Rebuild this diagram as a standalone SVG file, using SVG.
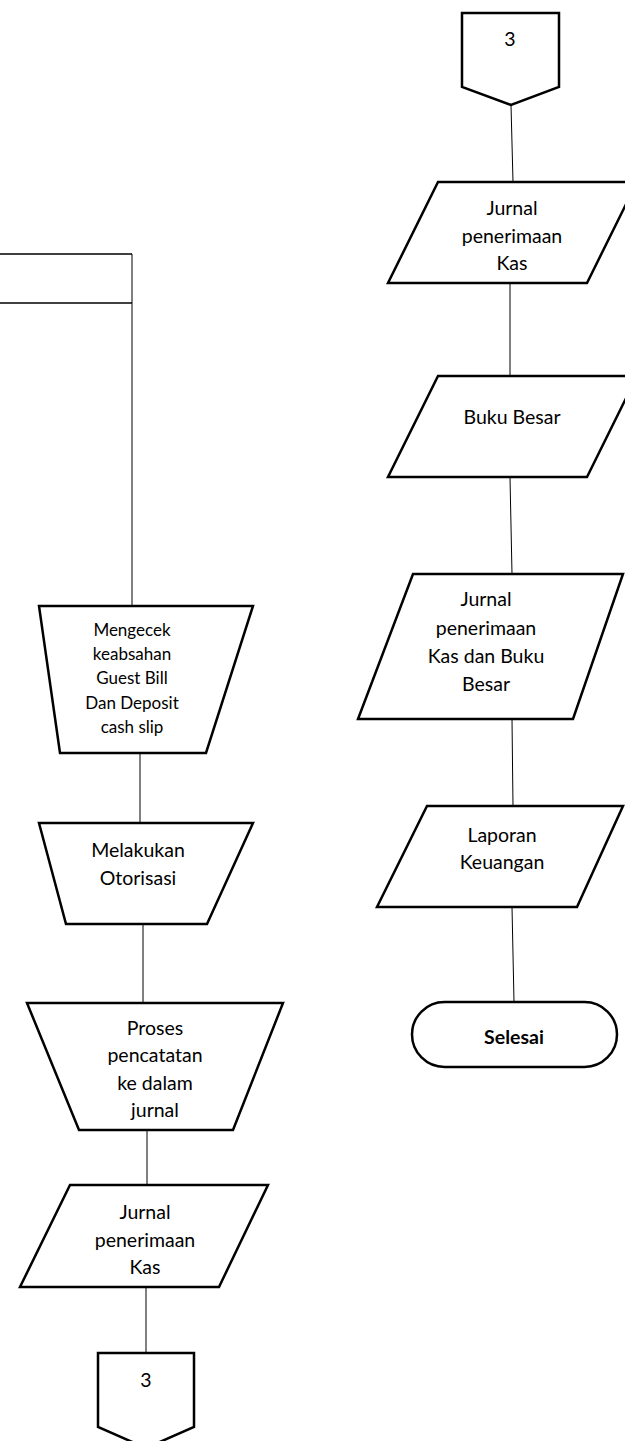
<svg xmlns="http://www.w3.org/2000/svg" width="625" height="1441" viewBox="0 0 625 1441">
  <style>
    .shape { fill: #ffffff; stroke: #000000; stroke-width: 2.5; stroke-linejoin: miter; }
    .frame { fill: none; stroke: #000000; stroke-width: 1.5; }
    .conn { fill: none; stroke: #000000; stroke-width: 1; }
    text { font-family: "Lato", "Liberation Sans", sans-serif; fill: #000000; text-anchor: middle; }
    .t17 { font-size: 17px; }
    .t19 { font-size: 19.5px; }
    .bold { font-weight: bold; }
  </style>
  <rect width="625" height="1441" fill="#ffffff"/>

  <!-- partial swimlane header on the left -->
  <g id="lane-frame">
    <line class="frame" x1="0" y1="254" x2="132" y2="254"/>
    <line class="frame" x1="0" y1="303" x2="132" y2="303"/>
  </g>

  <!-- connectors -->
  <g id="connectors">
    <line class="conn" x1="132" y1="254" x2="132" y2="606"/>
    <line class="conn" x1="140" y1="753" x2="140" y2="823"/>
    <line class="conn" x1="143" y1="924" x2="143" y2="1003"/>
    <line class="conn" x1="147" y1="1130" x2="147" y2="1185"/>
    <line class="conn" x1="146" y1="1287" x2="146" y2="1353"/>
    <line class="conn" x1="511" y1="105" x2="513" y2="182"/>
    <line class="conn" x1="510" y1="283" x2="510" y2="376"/>
    <line class="conn" x1="510" y1="477" x2="512" y2="574"/>
    <line class="conn" x1="512" y1="719" x2="513" y2="806"/>
    <line class="conn" x1="512" y1="907" x2="514" y2="1002"/>
  </g>

  <!-- left column -->
  <g id="cek-keabsahan">
    <polygon class="shape" points="39,606 253,606 206,753 60,753"/>
    <text class="t17" x="132" y="636">Mengecek</text>
    <text class="t17" x="132" y="660">keabsahan</text>
    <text class="t17" x="132" y="684">Guest Bill</text>
    <text class="t17" x="132" y="709">Dan Deposit</text>
    <text class="t17" x="132" y="733">cash slip</text>
  </g>

  <g id="otorisasi">
    <polygon class="shape" points="39,823 253,823 207,924 66,924"/>
    <text class="t19" x="138" y="857">Melakukan</text>
    <text class="t19" x="138" y="885">Otorisasi</text>
  </g>

  <g id="pencatatan">
    <polygon class="shape" points="27,1003 283,1003 233,1130 79,1130"/>
    <text class="t19" x="155" y="1035">Proses</text>
    <text class="t19" x="155" y="1062">pencatatan</text>
    <text class="t19" x="155" y="1090">ke dalam</text>
    <text class="t19" x="155" y="1117">jurnal</text>
  </g>

  <g id="jurnal-kas-left">
    <polygon class="shape" points="70,1185 268,1185 219,1287 20,1287"/>
    <text class="t19" x="145" y="1219">Jurnal</text>
    <text class="t19" x="145" y="1247">penerimaan</text>
    <text class="t19" x="145" y="1274">Kas</text>
  </g>

  <g id="offpage-out">
    <polygon class="shape" points="98,1353 194,1353 194,1427 146,1448 98,1427"/>
    <text class="t19" x="146" y="1387">3</text>
  </g>

  <!-- right column -->
  <g id="offpage-in">
    <polygon class="shape" points="462,13 559,13 559,87 511,105 462,87"/>
    <text class="t19" x="510" y="46">3</text>
  </g>

  <g id="jurnal-kas-right">
    <polygon class="shape" points="438,182 637,182 587,283 388,283"/>
    <text class="t19" x="512" y="215">Jurnal</text>
    <text class="t19" x="512" y="243">penerimaan</text>
    <text class="t19" x="512" y="270">Kas</text>
  </g>

  <g id="buku-besar">
    <polygon class="shape" points="438,376 637,376 587,477 388,477"/>
    <text class="t19" x="512" y="424">Buku Besar</text>
  </g>

  <g id="jurnal-dan-buku-besar">
    <polygon class="shape" points="413,574 623,574 573,719 358,719"/>
    <text class="t19" x="486" y="606">Jurnal</text>
    <text class="t19" x="486" y="635">penerimaan</text>
    <text class="t19" x="486" y="663">Kas dan Buku</text>
    <text class="t19" x="486" y="691">Besar</text>
  </g>

  <g id="laporan-keuangan">
    <polygon class="shape" points="427,806 623,806 577,907 377,907"/>
    <text class="t19" x="502" y="842">Laporan</text>
    <text class="t19" x="502" y="869">Keuangan</text>
  </g>

  <g id="selesai">
    <rect class="shape" x="412" y="1002" width="205" height="65" rx="32.5" ry="32.5"/>
    <text class="t19 bold" x="514" y="1044">Selesai</text>
  </g>
</svg>
